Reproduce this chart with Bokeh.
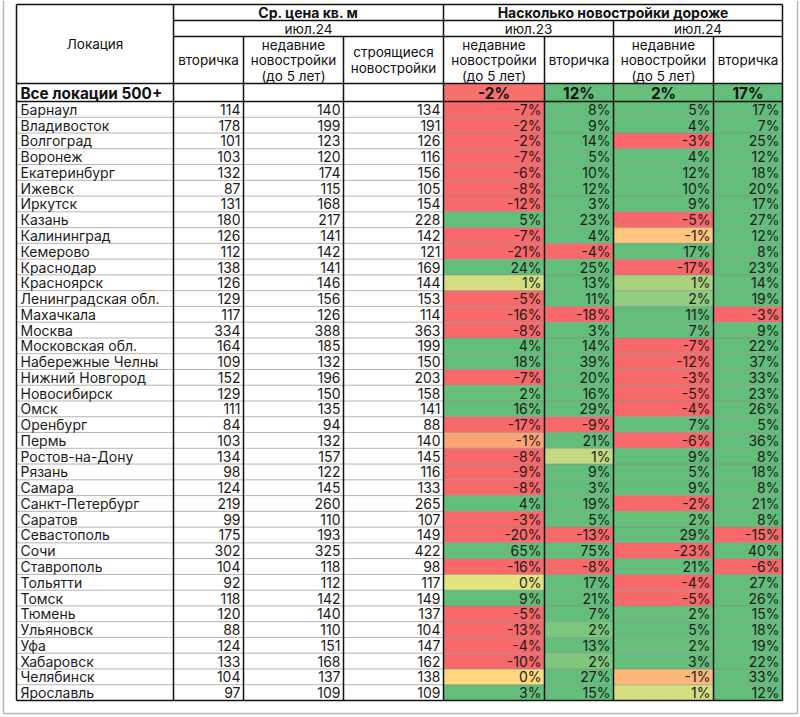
from bokeh.plotting import figure
from bokeh.models import Range1d
from bokeh.core.properties import value
from bokeh.embed import file_html
from bokeh.resources import INLINE

# ---------------- data ----------------
cities = ["Барнаул", "Владивосток", "Волгоград", "Воронеж", "Екатеринбург", "Ижевск",
          "Иркутск", "Казань", "Калининград", "Кемерово", "Краснодар", "Красноярск",
          "Ленинградская обл.", "Махачкала", "Москва", "Московская обл.",
          "Набережные Челны", "Нижний Новгород", "Новосибирск", "Омск", "Оренбург",
          "Пермь", "Ростов-на-Дону", "Рязань", "Самара", "Санкт-Петербург", "Саратов",
          "Севастополь", "Сочи", "Ставрополь", "Тольятти", "Томск", "Тюмень",
          "Ульяновск", "Уфа", "Хабаровск", "Челябинск", "Ярославль"]

price_secondary = [114, 178, 101, 103, 132, 87, 131, 180, 126, 112, 138, 126, 129, 117, 334,
                   164, 109, 152, 129, 111, 84, 103, 134, 98, 124, 219, 99, 175, 302, 104,
                   92, 118, 120, 88, 124, 133, 104, 97]
price_recent = [140, 199, 123, 120, 174, 115, 168, 217, 141, 142, 141, 146, 156, 126, 388,
                185, 132, 196, 150, 135, 94, 132, 157, 122, 145, 260, 110, 193, 325, 118,
                112, 142, 140, 110, 151, 168, 137, 109]
price_building = [134, 191, 126, 116, 156, 105, 154, 228, 142, 121, 169, 144, 153, 114, 363,
                  199, 150, 203, 158, 141, 88, 140, 145, 116, 133, 265, 107, 149, 422, 98,
                  117, 149, 137, 104, 147, 162, 138, 109]

# % premium of new buildings (values estimated, shown rounded)
diff23_recent = [-7, -2, -2, -7, -6, -8, -12, 5, -7, -21, 24, 0.7, -5, -16, -8, 4, 18, -7,
                 2.4, 16, -17, -1.1, -8, -9, -8, 4, -3, -20, 65, -16, 0.45, 9, -5, -13, -4,
                 -10, -0.3, 3]
diff23_secondary = [8, 9, 14, 5, 10, 12, 3, 23, 4, -4, 25, 13, 11, -18, 3, 14, 39, 20, 16,
                    29, -9, 21, 0.96, 9, 3, 19, 5, -13, 75, -8, 17, 21, 7, 2.08, 13, 2.03,
                    27, 15]
diff24_recent = [5, 4, -3, 4, 12, 10, 9, -5, -0.58, 17, -17, 1.38, 1.74, 11, 7, -7, -12, -3,
                 -5, -4, 7, -6, 9, 5, 9, -2, 2.4, 29, -23, 21, -4, -5, 2.4, 5, 2.4, 3,
                 -0.78, 0.67]
diff24_secondary = [17, 7, 25, 12, 18, 20, 17, 27, 12, 8, 23, 14, 19, -3, 9, 22, 37, 33, 23,
                    26, 5, 36, 8, 18, 8, 21, 8, -15, 40, -6, 27, 26, 15, 18, 19, 22, 33, 12]

total_label = "Все локации 500+"
total_diff = [-1.9, 12, 2.4, 17]

hdr_loc = "Локация"
hdr_price = "Ср. цена кв. м"
hdr_diff = "Насколько новостройки дороже"
hdr_jul24 = "июл.24"
hdr_jul23 = "июл.23"
sub_secondary = ["вторичка"]
sub_recent = ["недавние", "новостройки", "(до 5 лет)"]
sub_building = ["строящиеся", "новостройки"]

# ---------------- layout ----------------
FONT = value("Inter")
TXT = "#1c1c1c"
colx = [16, 173, 243, 343, 443, 544, 613, 713, 782]
y_top, y_h1, y_h2, y_h3, y_tot = 4, 20, 36, 83, 101
n = len(cities)
y_bot = 700
rh = (y_bot - y_tot) / n

p = figure(width=800, height=717, output_backend="svg", toolbar_location=None,
           x_range=Range1d(0, 800), y_range=Range1d(717, 0),
           x_axis_type=None, y_axis_type=None, min_border=0)
p.grid.visible = False
p.outline_line_color = None
p.background_fill_color = "white"


def cell_color(v):
    red, yel, grn = (248, 105, 107), (255, 235, 132), (99, 190, 123)
    if v <= 0:
        t, tgt = min(1.0, -v / 2.0), red
    else:
        t, tgt = min(1.0, v / 2.5), grn
    c = [round(a + (b - a) * t) for a, b in zip(yel, tgt)]
    return "#%02x%02x%02x" % tuple(c)


def fmt(v):
    return "%d%%" % int(round(v))


row_c = [y_tot + rh * (i + 0.5) for i in range(n)]

# outer light frame of the picture
p.segment(x0=[3, 3, 797], y0=[0, 713, 0], x1=[3, 797, 797], y1=[713, 713, 713],
          line_color="#b8b8b8", line_width=1.5)

# coloured cells
pct_cols = [diff23_recent, diff23_secondary, diff24_recent, diff24_secondary]
L, R, T, B, C = [], [], [], [], []
for j, col in enumerate(pct_cols):
    for i, v in enumerate(col):
        L.append(colx[4 + j]); R.append(colx[5 + j])
        T.append(y_tot + rh * i); B.append(y_tot + rh * (i + 1)); C.append(cell_color(v))
    L.append(colx[4 + j]); R.append(colx[5 + j]); T.append(y_h3); B.append(y_tot)
    C.append(cell_color(total_diff[j]))
p.quad(left=L, right=R, top=T, bottom=B, fill_color=C, line_color=None)

# horizontal row lines
hx0, hx1, hy = [], [], []
for i in range(1, n):
    hx0.append(colx[0]); hx1.append(colx[-1]); hy.append(y_tot + rh * i)
p.segment(x0=hx0, y0=hy, x1=hx1, y1=hy, line_color="#8a8a8a", line_width=0.8, line_alpha=0.8)

# black header/border lines
segs = [
    (colx[0], y_top, colx[-1], y_top),
    (colx[1], y_h1, colx[-1], y_h1),
    (colx[1], y_h2, colx[-1], y_h2),
    (colx[0], y_h3, colx[-1], y_h3),
    (colx[0], y_tot, colx[-1], y_tot),
    (colx[0], y_bot, colx[-1], y_bot),
    (colx[0], y_top, colx[0], y_bot),
    (colx[-1], y_top, colx[-1], y_bot),
    (colx[1], y_top, colx[1], y_bot),
    (colx[4], y_top, colx[4], y_bot),
    (colx[2], y_h2, colx[2], y_bot),
    (colx[3], y_h2, colx[3], y_bot),
    (colx[5], y_h2, colx[5], y_bot),
    (colx[6], y_h1, colx[6], y_bot),
    (colx[7], y_h2, colx[7], y_bot),
]
p.segment(x0=[s[0] for s in segs], y0=[s[1] for s in segs],
          x1=[s[2] for s in segs], y1=[s[3] for s in segs],
          line_color="#111111", line_width=1.5)

DATA_FS = "14px"

# city labels
p.text(x=[20] * n, y=row_c, text=cities, text_align="left", text_baseline="middle",
       text_font=FONT, text_font_size=DATA_FS, text_color=TXT)

# price columns
for j, col in enumerate([price_secondary, price_recent, price_building]):
    p.text(x=[colx[2 + j] - 3] * n, y=row_c, text=[str(v) for v in col],
           text_align="right", text_baseline="middle", text_font=FONT,
           text_font_size=DATA_FS, text_color=TXT)

# pct columns
for j, col in enumerate(pct_cols):
    p.text(x=[colx[5 + j] - 3] * n, y=row_c, text=[fmt(v) for v in col],
           text_align="right", text_baseline="middle", text_font=FONT,
           text_font_size=DATA_FS, text_color=TXT)

# total row
yt = (y_h3 + y_tot) / 2 + 0.5
p.text(x=[20], y=[yt], text=[total_label], text_align="left", text_baseline="middle",
       text_font=FONT, text_font_size="15.3px", text_font_style="bold", text_color="#111111")
p.text(x=[(colx[4 + j] + colx[5 + j]) / 2 for j in range(4)], y=[yt] * 4,
       text=[fmt(v) for v in total_diff], text_align="center", text_baseline="middle",
       text_font=FONT, text_font_size="15.3px", text_font_style="bold", text_color="#111111")

# headers
hx, hyy, ht, hs, hf = [], [], [], [], []


def add(x, y, t, bold=False):
    hx.append(x); hyy.append(y); ht.append(t)
    hs.append("bold" if bold else "normal")
    hf.append("14px" if bold else "13.5px")


add((colx[0] + colx[1]) / 2, (y_top + y_h3) / 2, hdr_loc)
add((colx[1] + colx[4]) / 2, (y_top + y_h1) / 2, hdr_price, True)
add((colx[4] + colx[-1]) / 2, (y_top + y_h1) / 2, hdr_diff, True)
add((colx[1] + colx[4]) / 2, (y_h1 + y_h2) / 2, hdr_jul24)
add((colx[4] + colx[6]) / 2, (y_h1 + y_h2) / 2, hdr_jul23)
add((colx[6] + colx[-1]) / 2, (y_h1 + y_h2) / 2, hdr_jul24)
ymid = (y_h2 + y_h3) / 2
lh = 15.5
for (a, b), lines in [((colx[1], colx[2]), sub_secondary), ((colx[2], colx[3]), sub_recent),
                      ((colx[3], colx[4]), sub_building), ((colx[4], colx[5]), sub_recent),
                      ((colx[5], colx[6]), sub_secondary), ((colx[6], colx[7]), sub_recent),
                      ((colx[7], colx[8]), sub_secondary)]:
    k = len(lines)
    for m, t in enumerate(lines):
        add((a + b) / 2, ymid + (m - (k - 1) / 2) * lh, t)
p.text(x=hx, y=hyy, text=ht, text_align="center", text_baseline="middle", text_font=FONT,
       text_font_size=hf, text_font_style=hs, text_color="#111111")

open("out.html", "w").write(file_html(p, INLINE))
